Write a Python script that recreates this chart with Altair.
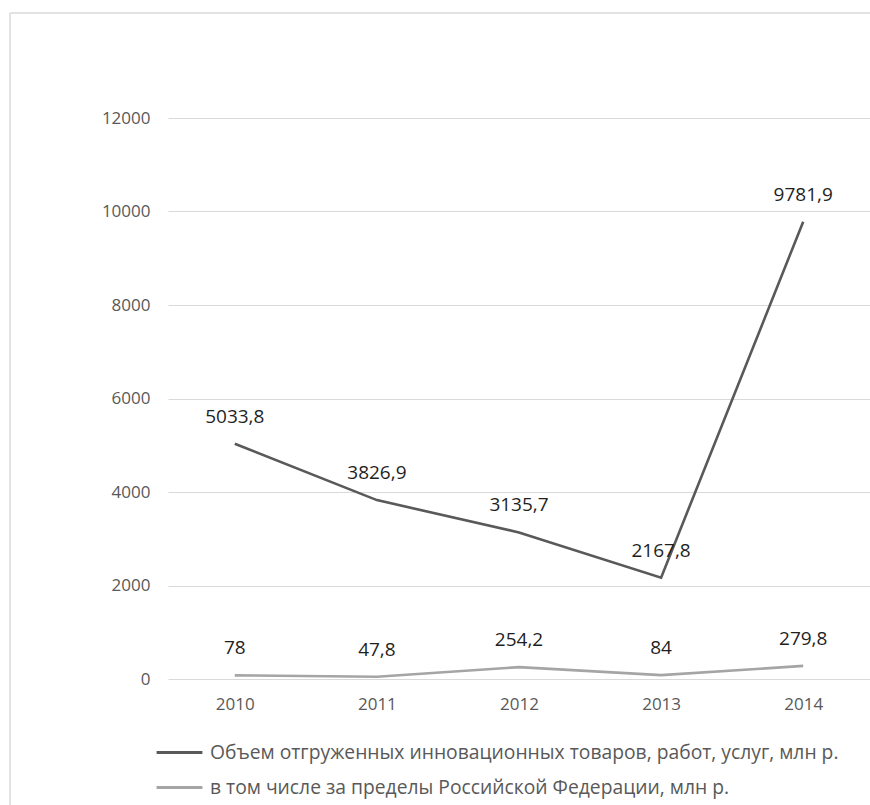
import altair as alt
import pandas as pd

years = ["2010", "2011", "2012", "2013", "2014"]
series_names = [
    "Объем  отгруженных инновационных товаров,  работ, услуг, млн р.",
    "в том  числе за пределы  Российской Федерации,  млн р.",
]
total_values = [5033.8, 3826.9, 3135.7, 2167.8, 9781.9]
total_labels = ["5033,8", "3826,9", "3135,7", "2167,8", "9781,9"]
abroad_values = [78, 47.8, 254.2, 84, 279.8]
abroad_labels = ["78", "47,8", "254,2", "84", "279,8"]
colors = ["#595959", "#a5a5a5"]

rows = []
for y, v, l in zip(years, total_values, total_labels):
    rows.append({"year": y, "value": v, "label": l, "series": series_names[0]})
for y, v, l in zip(years, abroad_values, abroad_labels):
    rows.append({"year": y, "value": v, "label": l, "series": series_names[1]})
df = pd.DataFrame(rows)

FONT = "Open Sans"

x = alt.X("year:O", scale=alt.Scale(type="point", padding=0.47),
          axis=alt.Axis(title=None, labelAngle=0, domain=False, ticks=False,
                        labelPadding=17, labelFontSize=17, labelColor="#595959",
                        labelFont=FONT, grid=False))
y = alt.Y("value:Q", scale=alt.Scale(domain=[0, 12000], nice=False),
          axis=alt.Axis(title=None, values=[0, 2000, 4000, 6000, 8000, 10000, 12000],
                        format="d", domain=False, ticks=False, labelPadding=18,
                        labelFontSize=17, labelColor="#595959", labelFont=FONT,
                        grid=True, gridColor="#d9d9d9", gridWidth=1.2))

base = alt.Chart(df)

lines = base.mark_line(strokeWidth=2.6).encode(
    x=x, y=y,
    color=alt.Color("series:N", scale=alt.Scale(domain=series_names, range=colors),
                    sort=series_names,
                    legend=alt.Legend(title=None, orient="none", legendX=-13, legendY=610,
                                      direction="vertical", symbolType="stroke",
                                      symbolStrokeWidth=3, symbolSize=2100,
                                      labelFontSize=19.3, labelColor="#595959",
                                      labelFont=FONT, labelLimit=900, rowPadding=-4,
                                      labelOffset=6)),
)

labels = base.mark_text(dy=-27, fontSize=19, font=FONT, color="#1f1f1f").encode(
    x=x, y=y, text="label:N"
)

frame_df = pd.DataFrame({"a": [0]})
left_border = alt.Chart(frame_df).mark_rule(color="#d9d9d9", strokeWidth=1.5).encode(
    x=alt.value(-158), y=alt.value(-105), y2=alt.value(700)
)
top_border = alt.Chart(frame_df).mark_rule(color="#d9d9d9", strokeWidth=1.5).encode(
    x=alt.value(-158), x2=alt.value(720), y=alt.value(-105)
)

chart = alt.layer(left_border, top_border, lines, labels).properties(
    width=702, height=561,
    padding={"left": 168, "top": 118, "right": 0, "bottom": 126},
    autosize="none",
    background="white",
).configure_view(stroke=None)

chart.save("out.html", embed_options={"renderer": "svg", "actions": False})
